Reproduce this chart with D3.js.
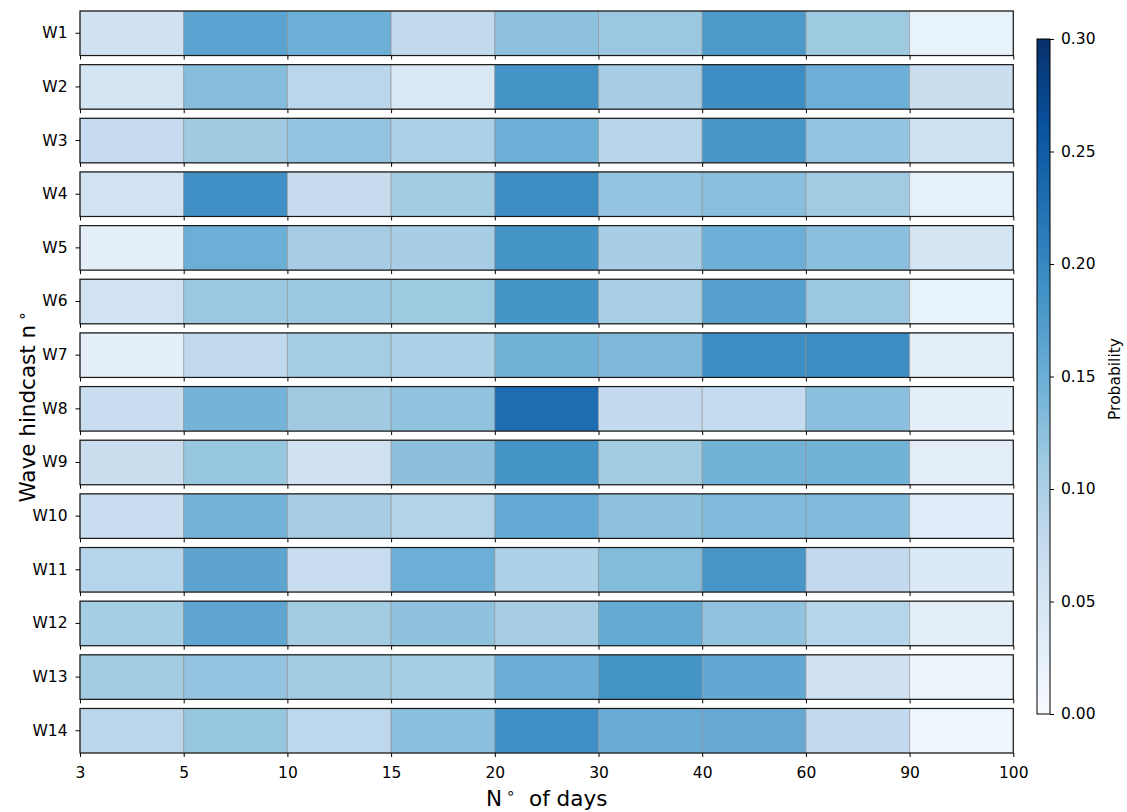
<!DOCTYPE html>
<html>
<head>
<meta charset="utf-8">
<script src="https://cdn.jsdelivr.net/npm/d3@7"></script>
<style>
  html, body { margin: 0; padding: 0; background: #fff; }
  svg { display: block; font-family: "DejaVu Sans", sans-serif; }
</style>
</head>
<body>
<svg id="chart" width="1127" height="812"></svg>
<script>
// Wave hindcasts (rows) and day-bin edges (columns)
const hindcasts = ["W1","W2","W3","W4","W5","W6","W7","W8","W9","W10","W11","W12","W13","W14"];
const dayEdges = ["3","5","10","15","20","30","40","60","90","100"];
const cbTicks = [0, 0.05, 0.10, 0.15, 0.20, 0.25, 0.30];

// Probability per day bin, one array per hindcast
const pW1  = [0.060, 0.165, 0.148, 0.080, 0.125, 0.115, 0.177, 0.113, 0.022];
const pW2  = [0.055, 0.130, 0.085, 0.045, 0.185, 0.105, 0.192, 0.148, 0.068];
const pW3  = [0.075, 0.112, 0.120, 0.098, 0.150, 0.088, 0.182, 0.120, 0.062];
const pW4  = [0.058, 0.190, 0.072, 0.108, 0.193, 0.120, 0.128, 0.110, 0.025];
const pW5  = [0.027, 0.150, 0.105, 0.104, 0.185, 0.104, 0.148, 0.127, 0.055];
const pW6  = [0.058, 0.115, 0.115, 0.113, 0.185, 0.102, 0.170, 0.115, 0.022];
const pW7  = [0.027, 0.080, 0.107, 0.098, 0.145, 0.135, 0.193, 0.193, 0.030];
const pW8  = [0.070, 0.143, 0.112, 0.122, 0.230, 0.077, 0.076, 0.127, 0.028];
const pW9  = [0.068, 0.118, 0.060, 0.126, 0.185, 0.108, 0.145, 0.145, 0.030];
const pW10 = [0.070, 0.143, 0.105, 0.093, 0.157, 0.124, 0.134, 0.134, 0.033];
const pW11 = [0.089, 0.163, 0.070, 0.150, 0.098, 0.132, 0.182, 0.078, 0.042];
const pW12 = [0.106, 0.162, 0.108, 0.123, 0.104, 0.156, 0.122, 0.089, 0.030];
const pW13 = [0.109, 0.120, 0.109, 0.106, 0.151, 0.185, 0.158, 0.060, 0.015];
const pW14 = [0.085, 0.118, 0.083, 0.127, 0.190, 0.153, 0.155, 0.077, 0.013];
const probs = [pW1,pW2,pW3,pW4,pW5,pW6,pW7,pW8,pW9,pW10,pW11,pW12,pW13,pW14];

const svg = d3.select("#chart");

// Layout
const plotLeft = 80, plotRight = 1013.3, plotTop = 11, plotBottom = 753;
const cb = { x: 1037, w: 13, y0: 39, y1: 714 };
const tickFont = 15.5;

// Sequential "Blues" ramp, 0 .. 0.30
const bluesStops = ["#f7fbff","#deebf7","#c6dbef","#9ecae1","#6baed6","#4292c6","#2171b5","#08519c","#08306b"];
const vmax = 0.30;
const color = d3.scaleLinear()
  .domain(bluesStops.map((_, i) => i / (bluesStops.length - 1) * vmax))
  .range(bluesStops)
  .interpolate(d3.interpolateRgb)
  .clamp(true);

// Row bands (one panel per hindcast)
const yRow = d3.scaleBand().domain(hindcasts).range([plotTop, plotBottom]).paddingInner(0.17).paddingOuter(0);
// Columns: day bins between consecutive edges
const bins = dayEdges.slice(0, -1).map((e, i) => e + "-" + dayEdges[i + 1]);
const xBin = d3.scaleBand().domain(bins).range([plotLeft, plotRight]).padding(0);
const xEdge = d3.scalePoint().domain(dayEdges).range([plotLeft, plotRight]).padding(0);

hindcasts.forEach((name, r) => {
  const y0 = yRow(name), h = yRow.bandwidth();
  const g = svg.append("g").attr("class", "panel");

  g.selectAll("rect.cell")
    .data(probs[r].map((v, i) => ({ bin: bins[i], v })))
    .join("rect")
    .attr("class", "cell")
    .attr("x", d => xBin(d.bin))
    .attr("y", y0)
    .attr("width", xBin.bandwidth())
    .attr("height", h)
    .attr("fill", d => color(d.v))
    .attr("stroke", "rgba(140,140,140,0.55)")
    .attr("stroke-width", 1);

  // Panel frame
  g.append("rect")
    .attr("x", plotLeft).attr("y", y0)
    .attr("width", plotRight - plotLeft).attr("height", h)
    .attr("fill", "none").attr("stroke", "#1a1a1a").attr("stroke-width", 1.2);

  // Bottom axis ticks on every panel, labels only on the last one
  const ax = d3.axisBottom(xEdge).tickSize(4).tickPadding(10);
  const axG = g.append("g").attr("transform", `translate(0,${y0 + h})`).call(ax);
  axG.select(".domain").remove();
  axG.selectAll(".tick line").attr("stroke", "#000").attr("stroke-width", 1);
  if (r < hindcasts.length - 1) {
    axG.selectAll(".tick text").remove();
  } else {
    axG.selectAll(".tick text").attr("font-size", tickFont).attr("fill", "#000")
      .attr("font-family", "DejaVu Sans");
  }
});

// Left axis: one tick per panel
const yAx = d3.axisLeft(yRow).tickSize(4.5).tickPadding(8);
const yG = svg.append("g").attr("transform", `translate(${plotLeft},0)`).call(yAx);
yG.select(".domain").remove();
yG.selectAll(".tick line").attr("stroke", "#000");
yG.selectAll(".tick text").attr("font-size", tickFont).attr("fill", "#000").attr("font-family", "DejaVu Sans");

// Axis titles
const xt = svg.append("text")
  .attr("x", (plotLeft + plotRight) / 2).attr("y", 806)
  .attr("text-anchor", "middle").attr("font-size", 21.5).attr("fill", "#000");
xt.append("tspan").text("N");
xt.append("tspan").text("∘").attr("font-size", 15).attr("dy", -8).attr("dx", 4);
xt.append("tspan").text("  of days").attr("dy", 8).attr("xml:space", "preserve").style("white-space", "pre");

const yt = svg.append("text")
  .attr("transform", `translate(35,407) rotate(-90)`)
  .attr("text-anchor", "middle").attr("font-size", 21.5).attr("fill", "#000");
yt.append("tspan").text("Wave hindcast n");
yt.append("tspan").text("∘").attr("font-size", 15).attr("dy", -8).attr("dx", 4);

// Colorbar
const defs = svg.append("defs");
const grad = defs.append("linearGradient").attr("id", "cbGrad")
  .attr("x1", 0).attr("y1", 1).attr("x2", 0).attr("y2", 0);
d3.range(0, 1.0001, 0.02).forEach(t => {
  grad.append("stop").attr("offset", t).attr("stop-color", color(t * vmax));
});
svg.append("rect")
  .attr("x", cb.x).attr("y", cb.y0).attr("width", cb.w).attr("height", cb.y1 - cb.y0)
  .attr("fill", "url(#cbGrad)").attr("stroke", "#000").attr("stroke-width", 1);

const cbScale = d3.scaleLinear().domain([0, vmax]).range([cb.y1, cb.y0]);
const cbG = svg.append("g").attr("transform", `translate(${cb.x + cb.w},0)`)
  .call(d3.axisRight(cbScale).tickValues(cbTicks).tickFormat(d3.format(".2f")).tickSize(4).tickPadding(7));
cbG.select(".domain").remove();
cbG.selectAll(".tick line").attr("stroke", "#000");
cbG.selectAll(".tick text").attr("font-size", tickFont).attr("fill", "#000").attr("font-family", "DejaVu Sans");

svg.append("text")
  .attr("transform", `translate(1120,379) rotate(-90)`)
  .attr("text-anchor", "middle").attr("font-size", 15.5).attr("fill", "#000")
  .text("Probability");
</script>
</body>
</html>
